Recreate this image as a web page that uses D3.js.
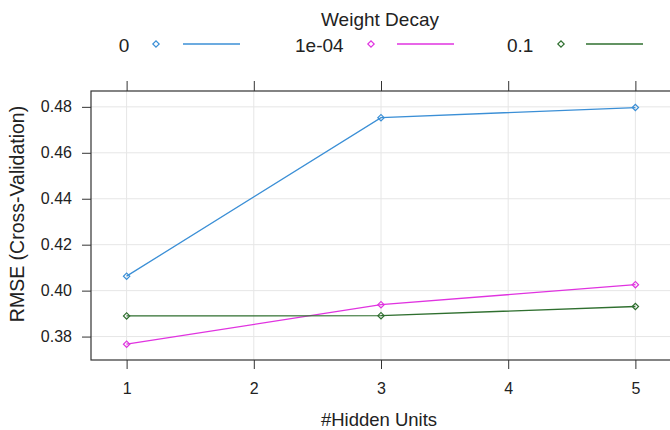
<!DOCTYPE html>
<html>
<head>
<meta charset="utf-8">
<script src="https://cdn.jsdelivr.net/npm/d3@7"></script>
<style>
  body { margin: 0; background: #fff; }
  text { font-family: "Liberation Sans", Arial, sans-serif; fill: #222; }
</style>
</head>
<body>
<svg id="chart" width="670" height="430"></svg>
<script>
let width = 670, height = 430;
let hiddenUnits = [1, 3, 5];
let decayLabels = ['0', '1e-04', '0.1'];
let decayColors = ['#3b8fd6', '#e033e0', '#2f6f2f'];
let rmse0 = [0.4063, 0.4753, 0.4797];
let rmse1e4 = [0.3767, 0.3939, 0.4026];
let rmse01 = [0.3890, 0.3891, 0.3931];
let xTicks = [1, 2, 3, 4, 5];
let yTicks = [0.38, 0.40, 0.42, 0.44, 0.46, 0.48];

let series = [rmse0, rmse1e4, rmse01];

let svg = d3.select('#chart');
let pLeft = 91, pRight = 671, pTop = 91, pBottom = 360;

let x = d3.scaleLinear().domain([0.72, 5.28]).range([pLeft, pRight]);
let y = d3.scaleLinear().domain([0.3698, 0.4869]).range([pBottom, pTop]);

// grid
svg.append('g').selectAll('line')
  .data(xTicks).join('line')
  .attr('x1', function(d) { return x(d); }).attr('x2', function(d) { return x(d); })
  .attr('y1', pTop).attr('y2', pBottom)
  .style('stroke', '#e6e6e6');
svg.append('g').selectAll('line')
  .data(yTicks).join('line')
  .attr('x1', pLeft).attr('x2', pRight)
  .attr('y1', function(d) { return y(d); }).attr('y2', function(d) { return y(d); })
  .style('stroke', '#e6e6e6');

// axes
let axisStyle = function(g) {
  g.select('.domain').remove();
  g.selectAll('line').style('stroke', '#333');
  g.selectAll('text').style('font-size', '16px').style('fill', '#222')
    .style('font-family', '"Liberation Sans", Arial, sans-serif');
};
svg.append('g').attr('transform', 'translate(0,' + pBottom + ')')
  .call(d3.axisBottom(x).tickValues(xTicks).tickSize(9).tickPadding(14).tickFormat(d3.format('d')))
  .call(axisStyle);
svg.append('g').attr('transform', 'translate(0,' + pTop + ')')
  .call(d3.axisTop(x).tickValues(xTicks).tickSize(10).tickFormat(''))
  .call(axisStyle);
svg.append('g').attr('transform', 'translate(' + pLeft + ',0)')
  .call(d3.axisLeft(y).tickValues(yTicks).tickSize(9).tickPadding(10).tickFormat(d3.format('.2f')))
  .call(axisStyle);

svg.append('rect')
  .attr('x', pLeft).attr('y', pTop)
  .attr('width', pRight - pLeft).attr('height', pBottom - pTop)
  .style('fill', 'none').style('stroke', '#333').style('stroke-width', 1.2);

// lines and points (square turned 45 degrees, like lattice's open diamond)
let line = d3.line()
  .x(function(d, i) { return x(hiddenUnits[i]); })
  .y(function(d) { return y(d); });
let marker = d3.symbol().type(d3.symbolSquare).size(20);

series.forEach(function(s, k) {
  svg.append('path').datum(s)
    .attr('d', line)
    .style('fill', 'none').style('stroke', decayColors[k]).style('stroke-width', 1.3);
  svg.append('g').selectAll('path')
    .data(s).join('path')
    .attr('d', marker)
    .attr('transform', function(d, i) { return 'translate(' + x(hiddenUnits[i]) + ',' + y(d) + ') rotate(45)'; })
    .style('fill', 'none').style('stroke', decayColors[k]).style('stroke-width', 1.2);
});

// axis titles
svg.append('text').attr('x', 379).attr('y', 426)
  .attr('text-anchor', 'middle').style('font-size', '18.5px').text('#Hidden Units');
svg.append('text').attr('transform', 'translate(24,214) rotate(-90)')
  .attr('text-anchor', 'middle').style('font-size', '19.5px').text('RMSE (Cross-Validation)');

// legend
svg.append('text').attr('x', 380).attr('y', 26)
  .attr('text-anchor', 'middle').style('font-size', '19px').text('Weight Decay');
let legendX = [124, 295, 507];
let legendPt = [156, 371, 561];
let legendLine = [183, 397, 586];
let legend = svg.append('g').selectAll('g')
  .data(decayLabels).join('g');
legend.append('text')
  .attr('x', function(d, i) { return legendX[i]; }).attr('y', 52)
  .attr('text-anchor', function(d, i) { return i === 0 ? 'middle' : 'start'; })
  .style('font-size', '19px').text(function(d) { return d; });
legend.append('path')
  .attr('d', marker)
  .attr('transform', function(d, i) { return 'translate(' + legendPt[i] + ',44) rotate(45)'; })
  .style('fill', 'none').style('stroke', function(d, i) { return decayColors[i]; }).style('stroke-width', 1.2);
legend.append('line')
  .attr('x1', function(d, i) { return legendLine[i]; })
  .attr('x2', function(d, i) { return legendLine[i] + 57; })
  .attr('y1', 44).attr('y2', 44)
  .style('stroke', function(d, i) { return decayColors[i]; }).style('stroke-width', 1.3);
</script>
</body>
</html>
